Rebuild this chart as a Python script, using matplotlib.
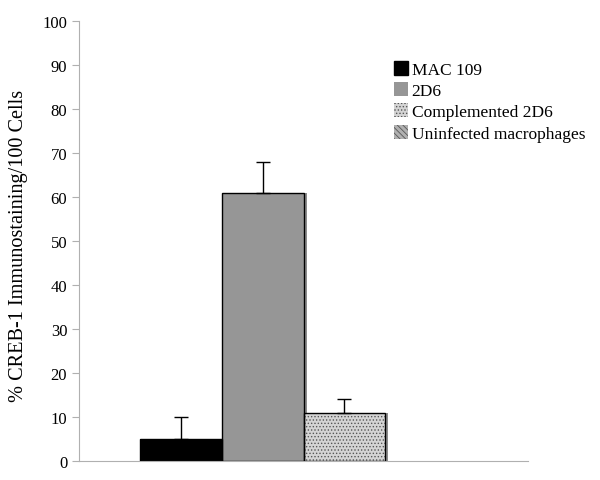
import matplotlib.pyplot as plt
from matplotlib.patches import Patch
import numpy as np

plt.rcParams['font.family'] = ['Liberation Serif', 'DejaVu Serif']
plt.rcParams['hatch.linewidth'] = 0.6

# data
groups = ['MAC 109', '2D6', 'Complemented 2D6', 'Uninfected macrophages']
values = [5, 61, 11, 0]
err_up = [5, 7, 3, 0]
faces = ['#000000', '#969696', '#d4d4d4', '#b0b0b0']
hatches = [None, None, '.....', '\\\\\\\\\\\\']

fig = plt.figure(figsize=(6, 4.81), dpi=100)
ax = fig.add_axes([0.1317, 0.0395, 0.7483, 0.9148])

x = np.arange(len(groups))
shown = [i for i in range(len(groups)) if values[i] > 0]
# drop shadow
ax.bar(x[shown] + 0.04, [values[i] for i in shown], width=1.0,
       color='#8c8c8c', linewidth=0, zorder=1)
for i in shown:
    ax.bar(x[i], values[i], width=1.0, color=faces[i], hatch=hatches[i],
           edgecolor='#555555', linewidth=0, zorder=2)
    ax.bar(x[i], values[i], width=1.0, fill=False, edgecolor='black',
           linewidth=1.0, zorder=3)
ax.errorbar(x[shown], [values[i] for i in shown],
            yerr=[np.zeros(len(shown)), [err_up[i] for i in shown]],
            fmt='none', ecolor='black', elinewidth=1.0, capsize=5,
            capthick=1.0, zorder=4)

ax.set_xlim(-1.25, 4.25)
ax.set_ylim(0, 100)
ax.set_yticks(np.arange(0, 101, 10))
ax.set_xticks([])
for s in ['top', 'right']:
    ax.spines[s].set_visible(False)
for s in ['left', 'bottom']:
    ax.spines[s].set_color('#b0b0b0')
ax.tick_params(axis='y', colors='#b0b0b0', labelcolor='black', length=5,
               labelsize=12)
ax.set_ylabel('% CREB-1 Immunostaining/100 Cells', fontsize=14.6)
ax.yaxis.set_label_coords(-0.113, 0.492)

handles = [Patch(facecolor=faces[i], hatch=hatches[i], edgecolor='#555555',
                 linewidth=0) for i in range(len(groups))]
handles[0] = Patch(facecolor='black', edgecolor='black')
ax.legend(handles, groups, loc='upper left', bbox_to_anchor=(0.685, 0.925),
          frameon=False, fontsize=12.5, handlelength=0.85, handleheight=0.85,
          handletextpad=0.2, labelspacing=0.25, borderaxespad=0)

plt.savefig('out.png', dpi=100)
